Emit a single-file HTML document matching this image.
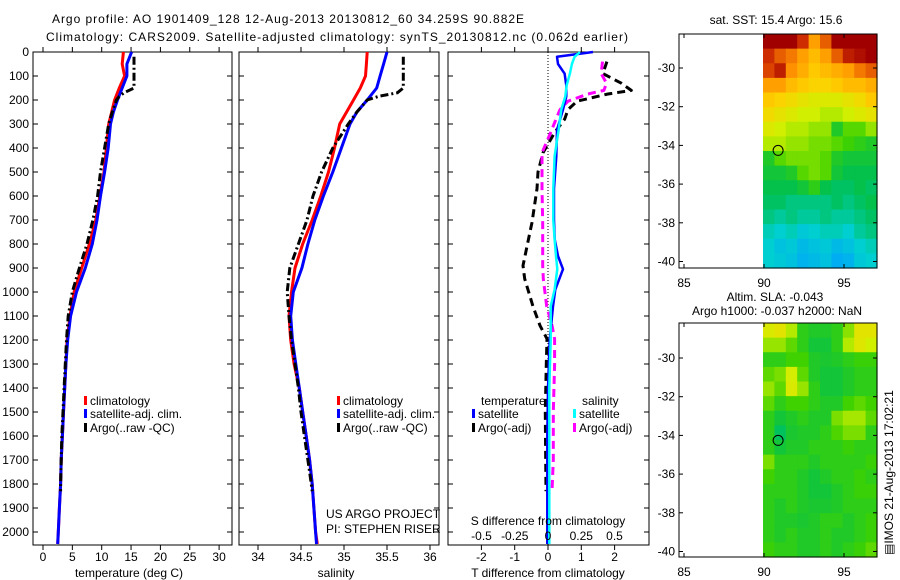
<!DOCTYPE html>
<html><head><meta charset="utf-8"><style>
html,body{margin:0;padding:0;background:#fff;}
svg{display:block;font-family:"Liberation Sans",sans-serif;}
text{font-size:12px;fill:#000;}
</style></head><body>
<svg id="fig" width="900" height="580" viewBox="0 0 900 580" xmlns="http://www.w3.org/2000/svg">
<g id="g"></g>
</svg>
<script>
// ---------- data ----------
const depthTicks = [0,100,200,300,400,500,600,700,800,900,1000,1100,1200,1300,1400,1500,1600,1700,1800,1900,2000];
const tempTicks = [0,5,10,15,20,25,30];
const salTicks = [34,34.5,35,35.5,36];
const tdiffTicks = [-2,-1,0,1,2];
const sdiffTicks = [-0.5,-0.25,0,0.25,0.5];
const sdiffLabels = ["-0.5","-0.25","0","0.25","0.5"];

const climDepth = [0,50,100,150,200,250,300,400,500,600,700,800,900,1000,1100,1200,1300,1400,1500,1600,1700,1800,1900,2000,2050];
const tempClim = [13.7,13.5,13.9,13.0,12.2,11.7,11.2,10.8,10.4,9.7,9.0,7.9,6.6,5.3,4.6,4.1,3.9,3.7,3.5,3.3,3.1,3.0,2.8,2.6,2.5];
const tempSat  = [15.1,14.3,14.3,13.5,12.7,12.0,11.5,11.1,10.5,9.8,9.2,8.4,7.2,5.7,4.7,4.2,3.9,3.7,3.5,3.3,3.1,3.0,2.8,2.6,2.5];
const salClim  = [35.27,35.26,35.25,35.19,35.11,35.03,34.95,34.89,34.82,34.73,34.63,34.52,34.43,34.39,34.36,34.38,34.42,34.48,34.52,34.56,34.60,34.63,34.65,34.67,34.69];
const salSat   = [35.50,35.46,35.42,35.38,35.27,35.15,35.07,34.97,34.87,34.76,34.66,34.58,34.51,34.41,34.38,34.40,34.44,34.48,34.52,34.56,34.60,34.63,34.65,34.67,34.68];

const argoDepth = [20,50,100,150,170,185,200,250,300,400,500,600,700,800,900,1000,1100,1200,1300,1400,1500,1600,1700,1800,1830];
const tempArgo  = [15.5,15.5,15.5,15.5,13.8,13.0,12.5,11.8,11.2,10.5,9.8,9.3,8.5,7.5,6.2,5.0,4.3,4.0,3.8,3.6,3.4,3.2,3.1,3.0,3.0];
const salArgo   = [35.69,35.69,35.69,35.69,35.62,35.40,35.27,35.15,35.05,34.87,34.74,34.64,34.57,34.47,34.37,34.34,34.36,34.39,34.43,34.47,34.50,34.54,34.58,34.62,34.63];

const diffDepth = [0,20,50,90,140,185,240,325,435,570,700,780,850,905,990,1060,1200,1400,1600,1800,2050];
const dTsat = [1.35,0.27,0.3,0.5,0.55,0.55,0.45,0.27,0.25,0.18,0.18,0.2,0.3,0.45,0.22,0.15,0.05,0.0,-0.02,-0.02,-0.02];
const dSsat = [0.24,0.2,0.18,0.165,0.14,0.13,0.1,0.08,0.05,0.04,0.04,0.05,0.06,0.07,0.05,0.02,0.02,0.01,0.01,0.01,0.01];
const argoDiffDepth = [40,90,130,160,175,205,240,280,335,420,500,570,710,810,890,945,1060,1140,1195,1300,1500,1700,1830];
const dTargo = [1.77,1.65,2.2,2.5,1.8,0.87,0.6,0.5,0.2,-0.15,-0.3,-0.33,-0.48,-0.63,-0.75,-0.7,-0.45,-0.24,-0.03,-0.05,-0.08,-0.07,-0.06];
const dSargo = [0.41,0.4,0.44,0.42,0.3,0.15,0.09,0.06,0.02,-0.045,-0.045,-0.045,-0.04,-0.04,-0.04,-0.035,-0.01,0.03,0.05,0.05,0.04,0.04,0.03];

const sstGrid = [
[17.6,17.6,17.6,17.3,16.8,17.1,17.6,17.6,17.6,17.6],
[17.3,17.1,17.0,16.8,16.6,16.8,17.1,17.4,17.5,17.6],
[17.2,17.4,16.9,16.7,16.5,16.6,16.7,16.8,17.0,17.1],
[16.8,16.8,16.6,16.5,16.4,16.4,16.5,16.6,16.6,16.7],
[16.5,16.4,16.3,16.2,16.1,16.1,16.1,16.2,16.3,16.5],
[16.3,16.2,16.1,16.0,16.0,15.9,15.9,16.0,16.1,16.2],
[16.1,16.0,15.9,15.9,15.8,15.8,15.3,15.6,15.6,15.8],
[15.9,15.9,15.8,15.8,15.7,15.7,15.6,15.5,15.4,15.3],
[15.3,15.6,15.7,15.7,15.7,15.6,15.3,15.2,15.2,15.2],
[15.2,15.2,15.3,15.6,15.7,15.6,15.2,15.1,15.1,15.1],
[15.1,15.1,15.1,15.2,15.4,15.1,15.0,15.0,15.1,15.0],
[15.0,15.0,14.9,14.9,14.9,14.9,15.0,14.9,15.0,15.1],
[14.9,14.8,14.9,14.8,14.8,14.9,14.8,14.8,14.9,15.0],
[14.7,14.6,14.7,14.5,14.6,14.7,14.7,14.6,14.8,14.9],
[14.6,14.4,14.5,14.3,14.4,14.5,14.3,14.4,14.6,14.7],
[14.6,14.5,14.4,14.2,14.3,14.4,14.1,14.2,14.5,14.6]];
const slaGrid = [
[0.15,0.17,0.11,0.0,-0.02,-0.02,0.0,0.08,0.17,0.17],
[0.09,0.09,0.05,0.0,-0.04,-0.04,0.0,0.11,0.16,0.13],
[0.0,0.0,0.03,0.03,-0.02,-0.03,-0.02,0.0,0.02,0.02],
[0.05,0.07,0.14,0.05,-0.02,-0.04,-0.04,-0.02,0.0,0.0],
[0.09,0.05,0.15,0.09,0.0,-0.04,-0.04,-0.02,0.0,0.0],
[0.05,0.0,0.03,0.03,0.0,-0.02,-0.02,0.03,0.05,0.03],
[0.0,-0.04,-0.02,0.0,-0.02,-0.02,0.07,0.10,0.10,0.05],
[0.0,-0.08,-0.03,-0.02,-0.02,0.0,0.04,0.07,0.07,0.0],
[0.0,-0.04,-0.02,-0.02,0.0,0.0,0.0,0.02,0.0,0.0],
[0.07,0.0,0.0,0.0,-0.02,0.0,0.0,0.0,0.0,0.02],
[0.03,0.0,0.0,-0.02,-0.04,-0.02,0.0,0.0,0.02,0.0],
[0.0,0.0,0.0,-0.02,-0.04,-0.04,-0.02,0.0,0.02,0.02],
[0.0,-0.02,0.0,-0.02,-0.03,-0.03,-0.02,0.0,0.0,0.0],
[0.0,-0.02,-0.02,-0.03,-0.02,0.0,0.0,-0.02,0.0,0.02],
[0.0,-0.02,0.0,-0.02,-0.02,0.0,-0.02,-0.02,0.0,0.02],
[0.02,0.0,0.0,-0.02,-0.02,0.0,-0.02,0.0,0.02,0.05]];
const latTicks = [-30,-32,-34,-36,-38,-40];
const lonTicks = [85,90,95];
const argoLon = 90.882, argoLat = -34.259;

// ---------- helpers ----------
const NS = "http://www.w3.org/2000/svg";
const G = document.getElementById('g');
function el(tag, attrs, parent){ const e=document.createElementNS(NS,tag); for(const k in attrs) e.setAttribute(k,attrs[k]); (parent||G).appendChild(e); return e; }
function txt(x,y,s,anchor,extra){ const t=el('text',Object.assign({x:x,y:y,'text-anchor':anchor||'start'},extra||{})); t.textContent=s; return t; }
const Y = d => 52 + d*0.24;
const XT = t => 43 + t*5.87;
const XS = s => 258 + (s-34)*86;
const XdT = v => 548 + v*33.3;
const XdS = v => 548 + v*133;
function line(xs, ys, fx, color, w, dash, name){
  const pts = xs.map((v,i)=> fx(v).toFixed(1)+','+Y(ys[i]).toFixed(1)).join(' ');
  const p = el('polyline',{points:pts,fill:'none',stroke:color,'stroke-width':w,'stroke-dasharray':dash||'none','stroke-linejoin':'round'});
  
  
}
function box(x0,x1,y0,y1,name){
  const r = el('rect',{x:x0,y:y0,width:x1-x0,height:y1-y0,fill:'none',stroke:'#000','stroke-width':1});
  
  
}
function depthTicksOn(x0,x1){
  depthTicks.forEach(d=>{ el('line',{x1:x0,x2:x0+5,y1:Y(d),y2:Y(d),stroke:'#000'}); el('line',{x1:x1,x2:x1-5,y1:Y(d),y2:Y(d),stroke:'#000'}); });
}
function xTicks(vals, fx, y0, y1){
  vals.forEach(v=>{ el('line',{x1:fx(v),x2:fx(v),y1:y0,y2:y0+5,stroke:'#000'}); el('line',{x1:fx(v),x2:fx(v),y1:y1,y2:y1-5,stroke:'#000'}); });
}
function legendEntry(x,y,color,label,name){
  const r = el('rect',{x:x,y:y-9,width:3,height:9,fill:color});
  
  
  const t = txt(x+6,y,label);
  
  
}

// ---------- titles ----------
let t1 = txt(52,23,"Argo profile: AO 1901409_128 12-Aug-2013 20130812_60 34.259S 90.882E",'start',{textLength:472,'font-size':13});
 
let t2 = txt(46,41,"Climatology: CARS2009. Satellite-adjusted climatology: synTS_20130812.nc (0.062d earlier)",'start',{textLength:582,'font-size':13});
 

const YB = 545;
// ---------- panel 1: temperature ----------
box(33,232,52,YB,'temperature-axes');
depthTicksOn(33,232);
xTicks(tempTicks,XT,YB,52);
depthTicks.forEach(d=>{ const t=txt(29,Y(d)+4,String(d),'end');   });
tempTicks.forEach(v=>{ const t=txt(XT(v),561,String(v),'middle');   });
let xl1=txt(129,577,"temperature (deg C)",'middle');  
line(tempClim,climDepth,XT,'#ff0000',3,null,'temp-climatology-line');
line(tempSat,climDepth,XT,'#0000ff',3,null,'temp-satellite-line');
line(tempArgo,argoDepth,XT,'#000000',3,'8,3,2,3','temp-argo-line');
legendEntry(84,405,'#ff0000','climatology','legend-climatology');
legendEntry(84,418,'#0000ff','satellite-adj. clim.','legend-satellite-adj');
legendEntry(84,432,'#000000','Argo(..raw -QC)','legend-argo');

// ---------- panel 2: salinity ----------
box(239,439,52,YB,'salinity-axes');
depthTicksOn(239,439);
xTicks(salTicks,XS,YB,52);
salTicks.forEach(v=>{ const t=txt(XS(v),561,String(v),'middle');   });
let xl2=txt(336,577,"salinity",'middle');  
line(salClim,climDepth,XS,'#ff0000',3,null,'sal-climatology-line');
line(salSat,climDepth,XS,'#0000ff',3,null,'sal-satellite-line');
line(salArgo,argoDepth,XS,'#000000',3,'8,3,2,3','sal-argo-line');
legendEntry(337,405,'#ff0000','climatology','legend-climatology-2');
legendEntry(337,418,'#0000ff','satellite-adj. clim.','legend-satellite-adj-2');
legendEntry(337,432,'#000000','Argo(..raw -QC)','legend-argo-2');
let us=txt(326,518,"US ARGO PROJECT");  
let pi=txt(326,533,"PI: STEPHEN RISER");  

// ---------- panel 3: differences ----------
box(448,649,52,YB,'difference-axes');
depthTicksOn(448,649);
xTicks(tdiffTicks,XdT,YB,52);
el('line',{x1:548,x2:548,y1:52,y2:YB,stroke:'#000','stroke-dasharray':'1,2'});
line(dTargo,argoDiffDepth,XdT,'#000000',3,'8,5','tdiff-argo-line');
line(dSargo,argoDiffDepth,XdS,'#ff00ff',3,'8,5','sdiff-argo-line');
line(dTsat,diffDepth,XdT,'#0000ff',2.5,null,'tdiff-satellite-line');
line(dSsat,diffDepth,XdS,'#00ffff',2.5,null,'sdiff-satellite-line');
let lt=txt(481,405,"temperature");  
legendEntry(472,418,'#0000ff','satellite','legend-t-satellite');
legendEntry(472,432,'#000000','Argo(-adj)','legend-t-argo');
let ls=txt(582,405,"salinity");  
legendEntry(573,418,'#00ffff','satellite','legend-s-satellite');
legendEntry(573,432,'#ff00ff','Argo(-adj)','legend-s-argo');
let sdt=txt(548,525,"S difference from climatology",'middle');  
sdiffTicks.forEach((v,i)=>{ const t=txt(XdS(v),540,sdiffLabels[i],'middle');   });
tdiffTicks.forEach(v=>{ const t=txt(XdT(v),561,String(v),'middle');   });
let tdt=txt(548,577,"T difference from climatology",'middle');  

// ---------- maps ----------
const stops = [[0,[0,80,255]],[0.2,[0,160,255]],[0.35,[0,208,208]],[0.45,[0,192,80]],[0.55,[64,210,0]],[0.65,[208,240,0]],[0.75,[255,208,0]],[0.85,[255,144,0]],[0.93,[208,48,0]],[1,[160,0,0]]];
function cmap(t){ t=Math.max(0,Math.min(1,t)); for(let i=1;i<stops.length;i++){ if(t<=stops[i][0]){ const a=stops[i-1],b=stops[i]; const f=(t-a[0])/(b[0]-a[0]); const c=a[1].map((v,k)=>Math.round(v+(b[1][k]-v)*f)); return 'rgb('+c.join(',')+')'; } } return 'rgb(160,0,0)'; }
function drawMap(top, latAt30, grid, norm, name){
  const X = lon => 764 + (lon-90)*16;
  const YL = lat => latAt30 + (-30-lat)*19.35;
  const left=679,right=877,bottom=top+234;
  const rows=grid.length, cols=grid[0].length;
  const ch=(bottom-top)/rows, cw=(right-763)/cols;
  grid.forEach((row,r)=>row.forEach((v,c)=>{
    const cell = el('rect',{x:(763+c*cw).toFixed(2),y:(top+r*ch).toFixed(2),width:(cw+0.6).toFixed(2),height:(ch+0.6).toFixed(2),fill:cmap(norm(v))});
    
    
  }));
  box(left,right,top,bottom,name+'-axes');
  lonTicks.forEach(l=>{ el('line',{x1:X(l),x2:X(l),y1:top,y2:top+4,stroke:'#000'}); el('line',{x1:X(l),x2:X(l),y1:bottom,y2:bottom-4,stroke:'#000'});
    const t=txt(X(l),bottom+19,String(l),'middle');   });
  latTicks.forEach(l=>{ el('line',{x1:left,x2:left+4,y1:YL(l),y2:YL(l),stroke:'#000'}); el('line',{x1:right,x2:right-4,y1:YL(l),y2:YL(l),stroke:'#000'});
    const t=txt(left-4,YL(l)+4,String(l),'end');   });
  const c = el('circle',{cx:X(argoLon),cy:YL(argoLat),r:5,fill:'none',stroke:'#000','stroke-width':1});
  
  
}
drawMap(34, 68, sstGrid, v=>(v-13)/4.6, 'sst-map');
drawMap(323, 358, slaGrid, v=>0.52+v, 'sla-map');
let mt1=txt(776,24,"sat. SST: 15.4  Argo: 15.6",'middle');  
let mt2=txt(775,301,"Altim. SLA: -0.043",'middle');  
let mt3=txt(777,315,"Argo h1000: -0.037 h2000: NaN",'middle');  
let im=txt(0,0,"\u25A4IMOS 21-Aug-2013 17:02:21",'start',{transform:'translate(893,555) rotate(-90)'});  
</script>
</body></html>
